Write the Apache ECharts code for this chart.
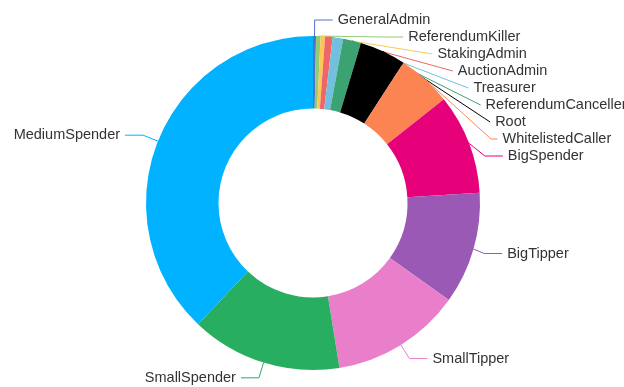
<!DOCTYPE html>
<html>
<head>
<meta charset="utf-8">
<script src="https://cdn.jsdelivr.net/npm/echarts@6/dist/echarts.min.js"></script>
<style>
  html, body { margin: 0; padding: 0; background: #fff; }
  #chart { width: 624px; height: 387px; }
</style>
</head>
<body>
<div id="chart"></div>
<script>
// Referenda per track, drawn clockwise from 12 o'clock
const tracks = [
  'GeneralAdmin', 'ReferendumKiller', 'StakingAdmin', 'AuctionAdmin', 'Treasurer',
  'ReferendumCanceller', 'Root', 'WhitelistedCaller', 'BigSpender', 'BigTipper',
  'SmallTipper', 'SmallSpender', 'MediumSpender'
];
const counts = [2, 3, 3, 5, 7, 12, 31, 36, 67, 75, 87, 101, 262];
const trackColors = [
  '#5470c6', '#91cc75', '#fac858', '#ee6666', '#73c0de',
  '#3ba272', '#000000', '#fc8452', '#e6007a', '#9b59b6',
  '#e97ecb', '#27ae60', '#00b2ff'
];

const chart = echarts.init(document.getElementById('chart'), null, { renderer: 'canvas' });

chart.setOption({
  animation: false,
  color: trackColors,
  series: [{
    type: 'pie',
    center: [313, 203],
    radius: [94.5, 167],
    startAngle: 90,
    clockwise: true,
    avoidLabelOverlap: true,
    label: {
      show: true,
      position: 'outside',
      color: '#333',
      fontSize: 14.5,
      // fixed box so long names run past the edge instead of being cut to "..."
      width: 200,
      overflow: 'none',
      fontFamily: '"Helvetica Neue", Helvetica, Arial, "Liberation Sans", sans-serif'
    },
    labelLine: {
      show: true,
      length: 16,
      length2: 18,
      smooth: false,
      lineStyle: { width: 1 }
    },
    itemStyle: { borderWidth: 0 },
    emphasis: { disabled: true },
    data: tracks.map((name, i) => ({ name: name, value: counts[i] }))
  }]
});
</script>
</body>
</html>
